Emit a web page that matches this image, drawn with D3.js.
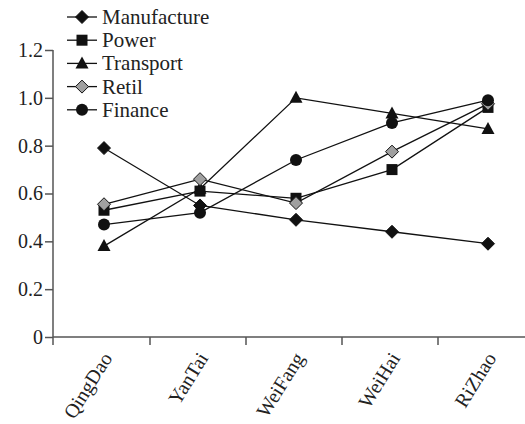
<!DOCTYPE html>
<html><head><meta charset="utf-8">
<script src="https://cdn.jsdelivr.net/npm/d3@7"></script>
<style>body{margin:0;background:#fff}svg{display:block}text{font-family:"Liberation Serif","Times New Roman",serif}</style>
</head><body><svg id="c" width="525" height="424"></svg>
<script>
const categories = ["QingDao","YanTai","WeiFang","WeiHai","RiZhao"];
const seriesNames = ["Manufacture","Power","Transport","Retil","Finance"];
const manufacture = [0.79,0.55,0.49,0.44,0.39];
const power = [0.53,0.61,0.58,0.70,0.96];
const transport = [0.38,0.62,1.00,0.935,0.87];
const retil = [0.555,0.66,0.56,0.775,0.975];
const finance = [0.47,0.52,0.74,0.895,0.99];
const yTicks = [0,0.2,0.4,0.6,0.8,1.0,1.2];

const shapes = ["diamond","square","triangle","diamond","circle"];
const fills = ["#111","#111","#111","#a0a0a0","#111"];
const seriesValues = [manufacture,power,transport,retil,finance];
const series = seriesNames.map((n,i)=>({name:n, values:seriesValues[i], shape:shapes[i], fill:fills[i]}));

const svg = d3.select("#c");
const font = "Liberation Serif";
const x = d3.scaleBand().domain(categories).range([54,534]);
const y = d3.scaleLinear().domain([0,1.2]).range([337,50]);
const cx = c => x(c) + x.bandwidth()/2 + 2;

// axes
const yAxis = svg.append("g").attr("transform","translate(53,0)")
  .call(d3.axisLeft(y).tickValues(yTicks).tickSize(8).tickFormat(d => d===0 ? "0" : d3.format(".1f")(d)));
yAxis.attr("font-family",font);
yAxis.select(".domain").attr("stroke","#555").attr("stroke-width",1.5).attr("d","M0,50V337");
yAxis.selectAll(".tick line").attr("stroke","#555").attr("stroke-width",1.5);
yAxis.selectAll(".tick text").attr("font-family",font).attr("font-size",20).attr("fill","#222").attr("x",-10);

const xg = svg.append("g");
xg.append("line").attr("x1",53).attr("x2",525).attr("y1",337).attr("y2",337).attr("stroke","#555").attr("stroke-width",1.5);
const tickPos = [53].concat(categories.slice(0,4).map(c => x(c)+x.bandwidth()));
tickPos.forEach(t => {
  xg.append("line").attr("x1",t).attr("x2",t).attr("y1",337).attr("y2",345).attr("stroke","#555").attr("stroke-width",1.5);
});
categories.forEach(c => {
  xg.append("text").attr("font-family",font).attr("font-size",20).attr("fill","#222")
    .attr("text-anchor","end")
    .attr("transform",`translate(${cx(c)+9},${358}) rotate(-58)`)
    .text(c);
});

function marker(g, shape, fill, px, py) {
  if (shape==="diamond") {
    g.append("path").attr("d",`M${px},${py-6.5}L${px+6.5},${py}L${px},${py+6.5}L${px-6.5},${py}Z`)
      .attr("fill",fill).attr("stroke","#111").attr("stroke-width",1);
  } else if (shape==="square") {
    g.append("rect").attr("x",px-5.5).attr("y",py-5.5).attr("width",11).attr("height",11).attr("fill",fill);
  } else if (shape==="triangle") {
    g.append("path").attr("d",`M${px},${py-7}L${px+6.5},${py+5}L${px-6.5},${py+5}Z`).attr("fill",fill);
  } else {
    g.append("circle").attr("cx",px).attr("cy",py).attr("r",6).attr("fill",fill);
  }
}

const line = d3.line().x((d,i)=>cx(categories[i])).y(d=>y(d));
series.forEach(s => {
  svg.append("path").attr("d",line(s.values)).attr("fill","none").attr("stroke","#111").attr("stroke-width",1.3);
});
series.forEach(s => {
  const g = svg.append("g");
  s.values.forEach((v,i) => marker(g, s.shape, s.fill, cx(categories[i]), y(v)));
});

// legend
series.forEach((s,i) => {
  const ly = 17 + i*23.2;
  const g = svg.append("g");
  g.append("line").attr("x1",67).attr("x2",97).attr("y1",ly).attr("y2",ly).attr("stroke","#111").attr("stroke-width",1.3);
  marker(g, s.shape, s.fill, 82, ly);
  g.append("text").attr("x",102).attr("y",ly+7).attr("font-family",font).attr("font-size",21).attr("fill","#222").text(s.name);
});
</script></body></html>
